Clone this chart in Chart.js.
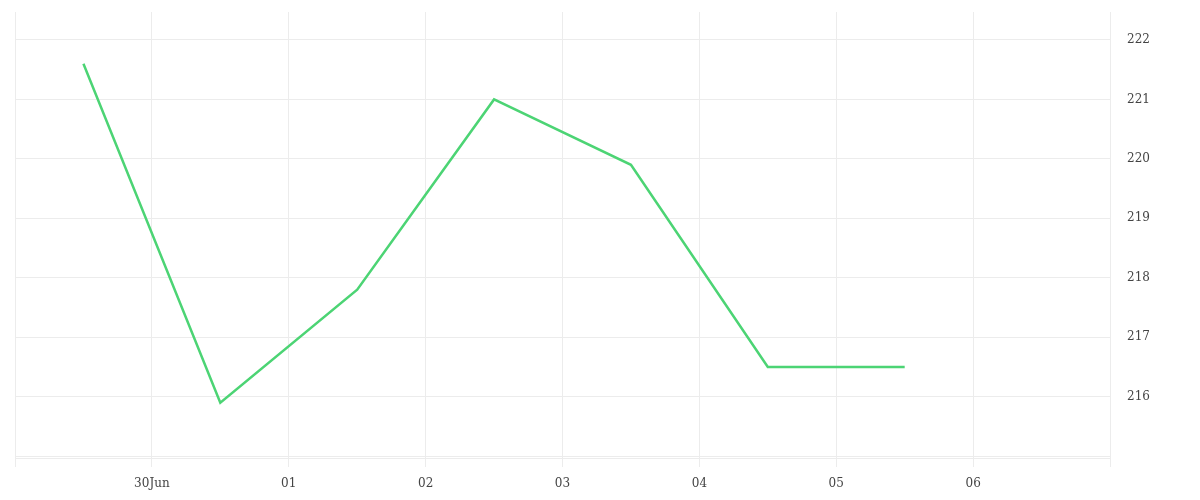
<!DOCTYPE html>
<html>
<head>
<meta charset="utf-8">
<script src="https://cdn.jsdelivr.net/npm/chart.js@4/dist/chart.umd.min.js"></script>
<style>
html,body{margin:0;padding:0;background:#fff;}
#wrap{width:1200px;height:500px;}
</style>
</head>
<body>
<div id="wrap"><canvas id="c" width="1200" height="500"></canvas></div>
<script>
// ---- data ----
const startDate = '2024-06-29T00:00:00Z';
const endDate = '2024-07-07T00:00:00Z';
const pointDates = ['2024-06-29T12:00:00Z','2024-06-30T12:00:00Z','2024-07-01T12:00:00Z','2024-07-02T12:00:00Z','2024-07-03T12:00:00Z','2024-07-04T12:00:00Z','2024-07-05T12:00:00Z'];
const values = [221.6, 215.9, 217.8, 221.0, 219.9, 216.5, 216.5];
const xTickLabels = ['', '30Jun', '01', '02', '03', '04', '05', '06', ''];
const yTicks = [215, 216, 217, 218, 219, 220, 221, 222];
const yMin = 214.97, yMax = 222.47;

const DAY = 86400000;
const t0 = Date.parse(startDate);
const toDays = d => (Date.parse(d) - t0) / DAY;
const points = pointDates.map((d, i) => ({x: toDays(d), y: values[i]}));
const xMax = toDays(endDate);

const gridColor = '#ececec';
const fontSpec = {family: '"DejaVu Serif", "Liberation Serif", serif', size: 12};

new Chart(document.getElementById('c'), {
  type: 'line',
  data: {
    datasets: [{
      data: points,
      borderColor: '#4cd474',
      borderWidth: 2.5,
      pointRadius: 0,
      pointHoverRadius: 0,
      tension: 0,
      fill: false
    }]
  },
  options: {
    responsive: false,
    animation: false,
    events: [],
    layout: {padding: {left: 15, top: 12, right: 0, bottom: 0}},
    plugins: {legend: {display: false}, tooltip: {enabled: false}},
    scales: {
      x: {
        type: 'linear',
        min: 0,
        max: xMax,
        afterBuildTicks: s => { s.ticks = xTickLabels.map((_, i) => ({value: i})); },
        afterFit: s => { s.height = 42; s.paddingLeft = 0; s.paddingRight = 0; },
        grid: {color: gridColor, lineWidth: 1, drawTicks: true, tickLength: 9, tickColor: gridColor},
        border: {color: gridColor},
        ticks: {
          color: '#444',
          font: fontSpec,
          padding: 10,
          maxRotation: 0,
          autoSkip: false,
          callback: (v) => xTickLabels[v] ?? ''
        }
      },
      y: {
        position: 'right',
        min: yMin,
        max: yMax,
        afterBuildTicks: s => { s.ticks = yTicks.map(v => ({value: v})); },
        afterFit: s => { s.width = 90; s.paddingTop = 0; s.paddingBottom = 0; },
        grid: {color: gridColor, lineWidth: 1, drawTicks: false},
        border: {color: gridColor},
        ticks: {
          color: '#444',
          font: fontSpec,
          padding: 17,
          callback: (v) => v === 215 ? '' : String(v)
        }
      }
    }
  }
});
</script>
</body>
</html>
